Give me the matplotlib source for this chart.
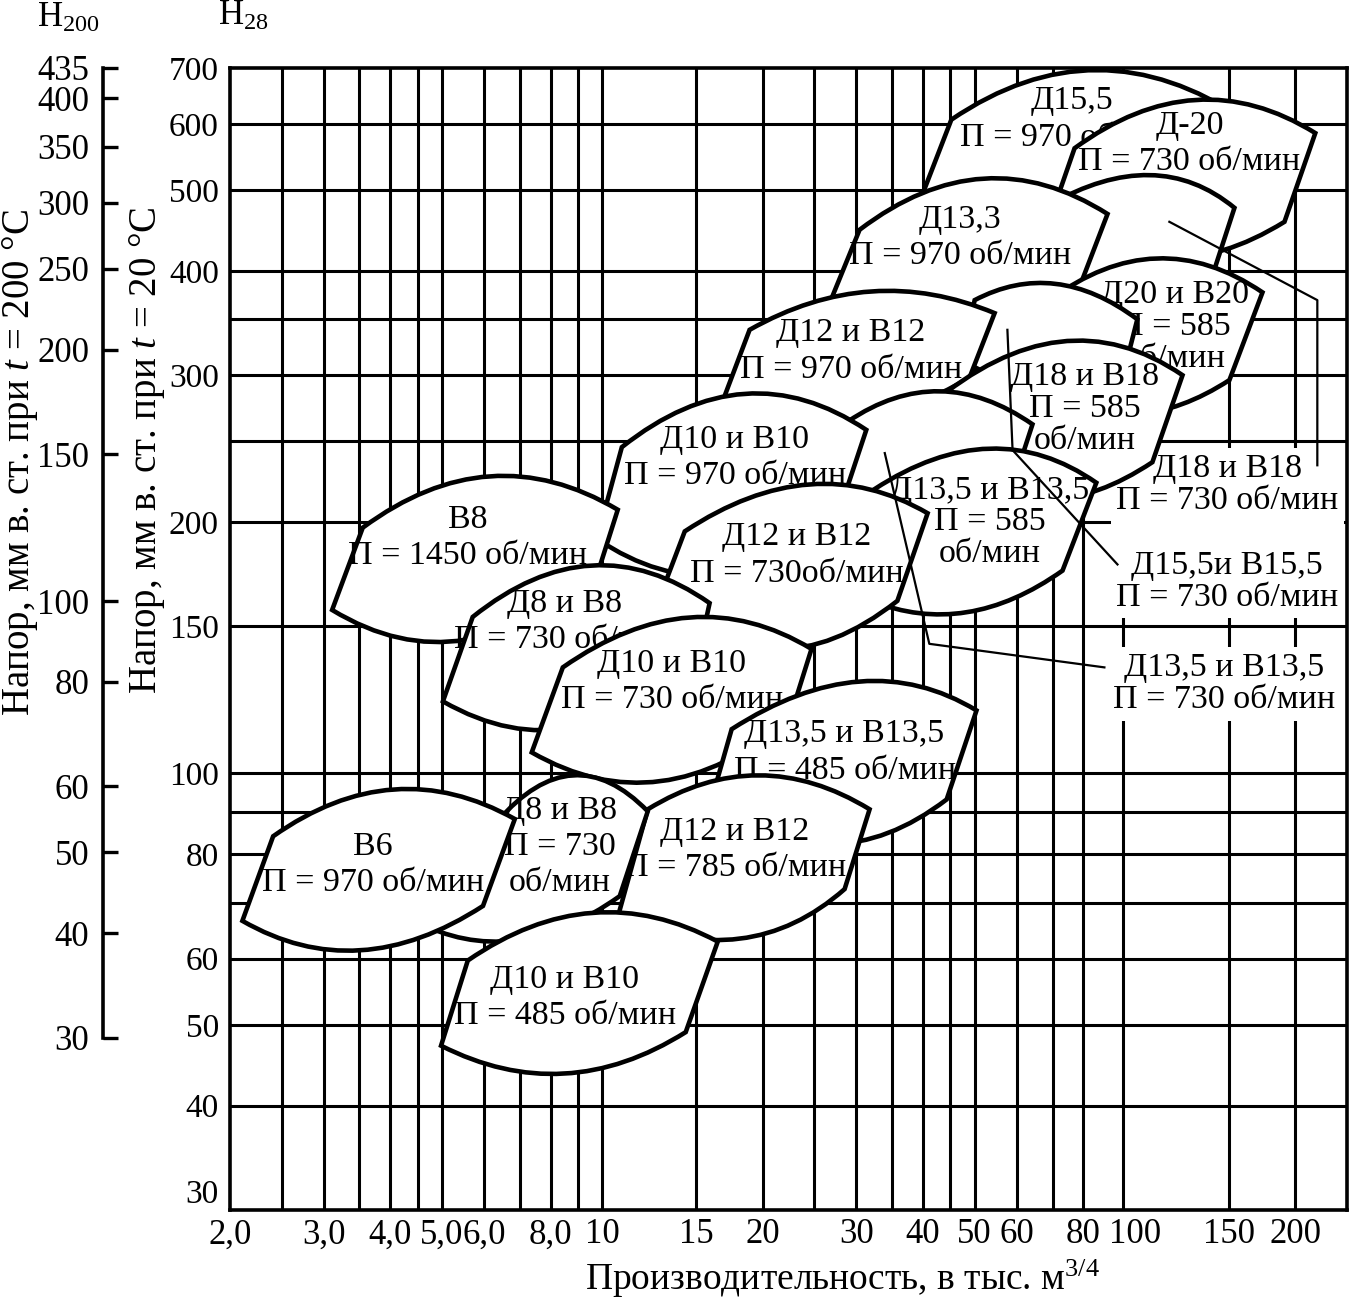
import numpy as np
import matplotlib
matplotlib.use("Agg")
import matplotlib.pyplot as plt
from matplotlib.path import Path
from matplotlib.patches import PathPatch
from matplotlib.ticker import NullLocator

plt.rcParams['font.family'] = ['Liberation Serif', 'DejaVu Serif']
plt.rcParams['mathtext.fontset'] = 'custom'
plt.rcParams['mathtext.rm'] = 'Liberation Serif'
plt.rcParams['mathtext.it'] = 'Liberation Serif:italic'

# %% Data: pump working fields (Q in thous. m3/h, H in mm w.c.), back to front
region_text = [
    "Д15,5\nП = 970 об/мин", "Д-20\nП = 730 об/мин", "",
    "Д13,3\nП = 970 об/мин", "Д20 и В20\nП = 585\nоб/мин", "",
    "Д12 и В12\nП = 970 об/мин", "Д18 и В18\nП = 585\nоб/мин", "",
    "Д10 и В10\nП = 970 об/мин", "Д13,5 и В13,5\nП = 585\nоб/мин",
    "Д12 и В12\nП = 730об/мин", "В8\nП = 1450 об/мин",
    "Д8 и В8\nП = 730 об/мин", "Д10 и В10\nП = 730 об/мин",
    "Д13,5 и В13,5\nП = 485 об/мин", "Д12 и В12\nП = 785 об/мин",
    "Д8 и В8\nП = 730\nоб/мин", "В6\nП = 970 об/мин",
    "Д10 и В10\nП = 485 об/мин",
]
# corners: bottom-left, top-left, top-right, bottom-right
q_bl = [39.75, 69.7, 66.2, 26.15, 66.2, 47.2, 16.6, 46.9, 26.7, 9.77,
        32.0, 12.93, 3.11, 5.02, 7.37, 16.04, 10.69, 4.45, 2.11, 4.98]
h_bl = [491, 467, 369, 354, 284, 313, 273, 234, 219, 191,
        161, 165, 157, 122, 106, 93.1, 67.3, 66.6, 66.6, 47.2]
q_tl = [45.2, 77.0, 69.1, 30.4, 69.1, 50.0, 18.9, 41.2, 28.9, 10.88,
        32.4, 14.28, 3.55, 5.71, 8.43, 17.49, 12.17, 6.36, 2.41, 5.59]
h_tl = [607, 561, 480, 448, 369, 369, 340, 276, 264, 246,
        219, 195, 197, 154, 134, 113, 90.6, 87.7, 84.1, 59.7]
q_tr = [160.5, 218.0, 153.7, 88.8, 173.5, 101.0, 54.5, 122.8, 64.2, 31.3,
        84.6, 40.8, 10.69, 15.9, 24.7, 50.4, 31.75, 12.17, 6.85, 16.47]
h_tr = [607, 585, 476, 468, 377, 350, 356, 300, 262, 258,
        223, 205, 207, 160, 141, 119, 90.6, 90.1, 88.2, 62.9]
q_br = [147.2, 190.8, 135.0, 77.6, 150.4, 95.6, 48.9, 107.8, 59.4, 27.7,
        73.1, 35.8, 9.89, 15.23, 22.46, 44.3, 28.5, 10.78, 5.97, 14.34]
h_br = [506, 458, 369, 374, 296, 305, 298, 236, 225, 204,
        175, 161, 177, 141, 116.2, 93.1, 72.7, 71.3, 69.4, 49.0]
# middle points of the upper and lower curves
q_top = [85.0, 129.9, 106.4, 51.97, 109.7, 70.9, 32.0, 72.1, 43.0, 18.5,
         53.3, 24.5, 6.15, 9.55, 14.58, 30.41, 19.65, 8.80, 4.06, 9.59]
h_top = [696, 641, 521, 516, 414, 386, 378, 329, 287, 285,
         245, 222, 227, 177.5, 153.8, 128.9, 99.5, 99.5, 95.7, 68.1]
q_bot = [80.4, 113.6, 93.5, 46.9, 99.8, 72.1, 29.1, 69.1, 41.2, 16.6,
         48.3, 21.06, 5.54, 8.87, 12.87, 26.7, 18.1, 6.85, 3.51, 8.47]
h_bot = [454, 414, 340, 335, 269, 284, 265, 213, 208, 173,
         156, 141, 144.6, 113.7, 97.9, 82.3, 63.4, 63.1, 61.4, 43.7]
# label centres
q_txt = [76.0, 126.5, 0, 46.9, 118.6, 0, 29.25, 80.4, 0, 17.72,
         53.3, 23.16, 5.59, 8.50, 13.5, 28.5, 17.72, 8.32, 3.71, 8.50]
h_txt = [608, 568, 0, 438, 343, 0, 320.6, 273.5, 0, 238.7,
         200, 182.5, 191.5, 152, 128.9, 106, 81.0, 81.7, 77.7, 53.9]

# labels outside the fields (first block holds two labels), with leaders
side_text = ["Д18 и В18\nП = 730 об/мин\n\nД15,5и В15,5\nП = 730 об/мин",
             "Д13,5 и В13,5\nП = 730 об/мин"]
side_q = [149.0, 147.2]
side_h = [194, 128]
lead_q = [[116.0, 219.9, 219.9], [57.6, 58.9, 92.7], [33.9, 41.1, 87.6]]
lead_h = [[458, 369, 234], [340, 244, 178], [242, 143, 134]]

# axes
x_grid = [2.5, 3, 3.5, 4, 4.5, 5, 6, 7, 8, 9, 10, 15, 20, 25, 30, 35, 40, 45,
          50, 60, 70, 80, 95, 150, 200]
y_grid = [40, 50, 60, 70, 80, 90, 100, 150, 200, 250, 300, 350, 400, 500, 600]
x_ticks = [2, 3, 4, 5, 6, 8, 10, 15, 20, 30, 40, 50, 60, 80, 100, 150, 200]
x_tick_labels = ["2,0", "3,0", "4,0", "5,0", "6,0", "8,0", "10", "15", "20",
                 "30", "40", "50", "60", "80", "100", "150", "200"]
y_ticks = [30, 40, 50, 60, 80, 100, 150, 200, 300, 400, 500, 600, 700]
h200_ticks = [30, 40, 50, 60, 80, 100, 150, 200, 250, 300, 350, 400, 435]
h200_max = 435

# %% Figure
W, H = 1353, 1298
fig = plt.figure(figsize=(W / 100, H / 100), dpi=100)
ax = fig.add_axes([230 / W, 1 - 1210 / H, (1347 - 230) / W, (1210 - 68) / H])
ax.set_xscale('log')
ax.set_yscale('log')
ax.set_xlim(2, 250)
ax.set_ylim(30, 700)

for xv in x_grid:
    ax.axvline(xv, color='black', lw=2.2, zorder=1)
for yv in y_grid:
    ax.axhline(yv, color='black', lw=2.2, zorder=1)

ax.set_xticks(x_ticks, labels=x_tick_labels)
ax.set_yticks(y_ticks, labels=[str(v) for v in y_ticks])
ax.xaxis.set_minor_locator(NullLocator())
ax.yaxis.set_minor_locator(NullLocator())
ax.tick_params(axis='x', length=0, pad=6, labelsize=25)
ax.tick_params(axis='y', length=0, pad=8, labelsize=24)
ax.get_yticklabels()[0].set_va('bottom')   # "30" sits above the x axis
for s in ax.spines.values():
    s.set_linewidth(2.6)
    s.set_zorder(200)


def ctrl(p0, pm, p2):
    # quadratic Bezier control point so that the curve passes pm (log space)
    l0, lm, l2 = np.log10(p0), np.log10(pm), np.log10(p2)
    return 10 ** (2 * lm - (l0 + l2) / 2)


tight = {4, 7, 10}   # three-line labels set closer
for i in range(len(region_text)):
    bl = np.array([q_bl[i], h_bl[i]])
    tl = np.array([q_tl[i], h_tl[i]])
    tr = np.array([q_tr[i], h_tr[i]])
    br = np.array([q_br[i], h_br[i]])
    ct = ctrl(tl, np.array([q_top[i], h_top[i]]), tr)
    cb = ctrl(br, np.array([q_bot[i], h_bot[i]]), bl)
    verts = [bl, tl, ct, tr, br, cb, bl, bl]
    codes = [Path.MOVETO, Path.LINETO, Path.CURVE3, Path.CURVE3,
             Path.LINETO, Path.CURVE3, Path.CURVE3, Path.CLOSEPOLY]
    ax.add_patch(PathPatch(Path(verts, codes), facecolor='white',
                           edgecolor='black', lw=3.3, zorder=3 + 2 * i))
    if region_text[i]:
        ax.text(q_txt[i], h_txt[i], region_text[i], ha='center', va='center',
                fontsize=24.5, linespacing=1.05 if i in tight else 1.25,
                zorder=4 + 2 * i)

for lq, lh in zip(lead_q, lead_h):
    ax.plot(lq, lh, color='black', lw=1.6, zorder=100)
# white boxes hide the grid only; fields and leaders stay on top
for t, q, h in zip(side_text, side_q, side_h):
    ax.text(q, h, t, ha='center', va='center', fontsize=24.5, linespacing=1.07,
            zorder=2, bbox=dict(facecolor='white', edgecolor='none', pad=4))

# second head scale (t = 200 °C)
ax2 = fig.add_axes([103 / W, 1 - 1210 / H, 0.0005, (1210 - 68) / H])
ax2.set_yscale('log')
ax2.set_ylim(30 * h200_max / 700, h200_max)
ax2.set_yticks(h200_ticks, labels=[str(v) for v in h200_ticks])
ax2.yaxis.set_minor_locator(NullLocator())
ax2.tick_params(axis='y', direction='in', length=11, width=2.4, pad=10,
                labelsize=25)
ax2.set_xticks([])
ax2.patch.set_visible(False)
for side in ['top', 'right', 'bottom']:
    ax2.spines[side].set_visible(False)
ax2.spines['left'].set_linewidth(2.6)
ax2.spines['left'].set_bounds(30, h200_max)

fig.text(20 / W, 1 - 462 / H, r'Напор, мм в. ст. при $t$ = 200 °C',
         rotation=90, ha='center', va='center', fontsize=28)
fig.text(147 / W, 1 - 450 / H, r'Напор, мм в. ст. при $t$ = 20 °C',
         rotation=90, ha='center', va='center', fontsize=28)
fig.text(37 / W, 1 - 27 / H, r'Н$_{200}$', ha='left', va='baseline',
         fontsize=25)
fig.text(218 / W, 1 - 25 / H, r'Н$_{28}$', ha='left', va='baseline',
         fontsize=25)
fig.text(842 / W, 1 - 1290 / H, r'Производительность, в тыс. м$^{3/4}$',
         ha='center', va='baseline', fontsize=27)

fig.savefig('out.png', dpi=100)
